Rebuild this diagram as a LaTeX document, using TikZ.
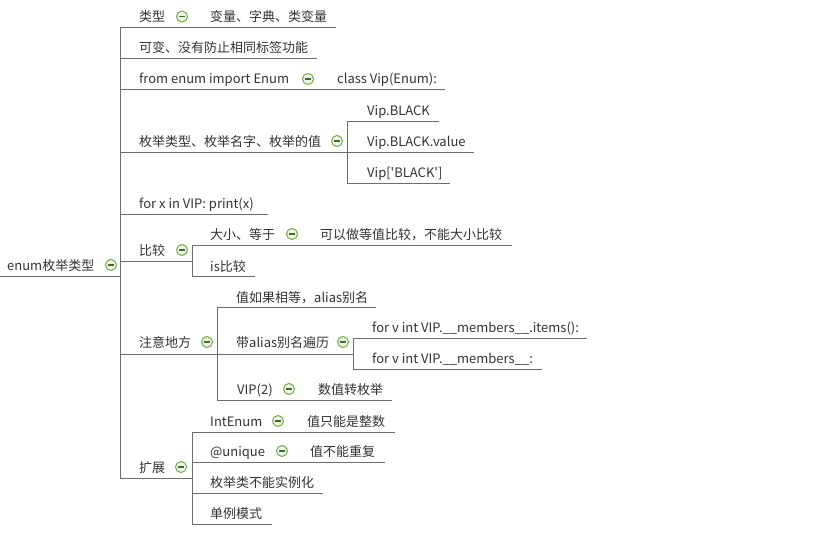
\documentclass[tikz,border=0pt]{standalone}
\usepackage{fontspec}
\setmainfont{Noto Sans CJK SC}
\definecolor{txt}{RGB}{51,51,51}
\definecolor{lnc}{RGB}{110,110,110}
\definecolor{icb}{RGB}{110,175,60}
\definecolor{icf}{RGB}{240,245,235}
\definecolor{icm}{RGB}{60,110,40}
\tikzset{
  tx/.style={anchor=base west,inner sep=0pt,text=txt,font=\fontsize{13}{15}\selectfont},
  ln/.style={draw=lnc,line width=1pt},
  icn/.style={circle,draw=icb,line width=1pt,fill=icf,minimum size=11pt,inner sep=0pt},
  icmin/.style={draw=icm,line width=1.2pt}
}
% name, text x, text y(center), text, line x1, line x2, line y
\newcommand\topic[7]{%
  \node[tx] (#1) at (#2,#3+5) {#4};
  \coordinate (#1-a) at (#5,#7);
  \coordinate (#1-b) at (#6,#7);
  \draw[ln] (#1-a) -- (#1-b);}
\newcommand\collapse[3]{%
  \node[icn] (#1) at (#2,#3) {};
  \draw[icmin] ([xshift=-3pt]#1.center) -- ([xshift=3pt]#1.center);}
\begin{document}
\begin{tikzpicture}[x=1pt,y=-1pt]
\useasboundingbox (0,0) rectangle (817,535);
% root
\topic{root}{7}{265}{enum枚举类型}{0}{120}{276}
\collapse{root-i}{111}{265}
% level 1
\topic{n1}{139}{17}{类型}{120}{192}{28}
\collapse{n1-i}{182}{16.5}
\topic{n1c}{210}{17}{变量、字典、类变量}{192}{336}{28}
\topic{n2}{139}{48}{可变、没有防止相同标签功能}{120}{317}{59}
\topic{n3}{139}{79}{from enum import Enum}{120}{318}{90}
\collapse{n3-i}{308}{79}
\topic{n3c}{337}{79}{class Vip(Enum):}{318}{445}{90}
\topic{n4}{139}{141}{枚举类型、枚举名字、枚举的值}{120}{347}{152}
\collapse{n4-i}{337}{141}
\topic{n41}{367}{110}{Vip.BLACK}{347}{439}{121}
\topic{n42}{367}{141}{Vip.BLACK.value}{347}{474}{152}
\topic{n43}{367}{172}{Vip[\textquotesingle BLACK\textquotesingle]}{347}{450}{183}
\draw[ln] (n41-a) -- (n43-a);
\topic{n5}{139}{203}{for x in VIP: print(x)}{120}{268}{214}
\topic{n6}{139}{250}{比较}{120}{192}{261}
\collapse{n6-i}{182}{250}
\topic{n61}{210}{234}{大小、等于}{192}{302}{245}
\collapse{n61-i}{292}{234}
\topic{n61c}{320}{234}{可以做等值比较，不能大小比较}{302}{512}{245}
\topic{n62}{210}{266}{is比较}{192}{255}{276}
\draw[ln] (n61-a) -- (n62-a);
\topic{n7}{139}{342}{注意地方}{120}{217}{354}
\collapse{n7-i}{207}{342}
\topic{n71}{236}{297}{值如果相等，alias别名}{217}{376}{307}
\topic{n72}{236}{342}{带alias别名遍历}{217}{353}{354}
\collapse{n72-i}{343}{342}
\topic{n721}{372}{327}{for v int VIP.\_\_members\_\_.items():}{353}{587}{338}
\topic{n722}{372}{358}{for v int VIP.\_\_members\_\_:}{353}{542}{369}
\draw[ln] (n721-a) -- (n722-a);
\topic{n73}{237}{389}{VIP(2)}{217}{299}{400}
\collapse{n73-i}{289}{389}
\topic{n73c}{318}{389}{数值转枚举}{299}{392}{400}
\draw[ln] (n71-a) -- (n73-a);
\topic{n8}{139}{467}{扩展}{120}{192}{478}
\collapse{n8-i}{181}{467}
\topic{n81}{210}{421}{IntEnum}{192}{288}{432}
\collapse{n81-i}{278}{421}
\topic{n81c}{307}{421}{值只能是整数}{288}{395}{432}
\topic{n82}{210}{451}{@unique}{192}{292}{462}
\collapse{n82-i}{282}{451}
\topic{n82c}{310}{451}{值不能重复}{292}{385}{462}
\topic{n83}{210}{482}{枚举类不能实例化}{192}{323}{493}
\topic{n84}{210}{513}{单例模式}{192}{272}{524}
\draw[ln] (n81-a) -- (n84-a);
% trunk
\draw[ln] (n1-a) -- (n8-a);
\end{tikzpicture}
\end{document}
